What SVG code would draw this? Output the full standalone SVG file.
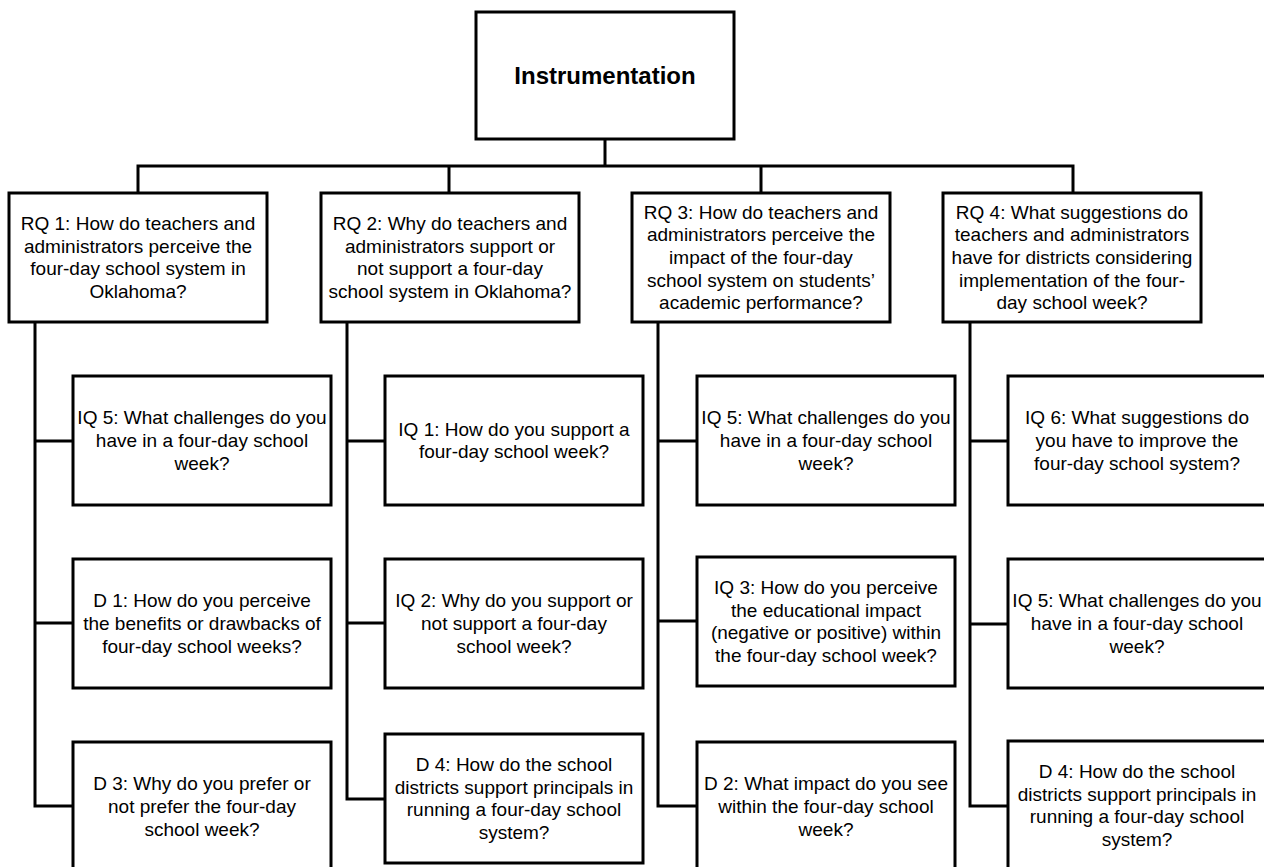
<svg xmlns="http://www.w3.org/2000/svg" width="1264" height="867" viewBox="0 0 1264 867">
<style>
.box{fill:#fff;stroke:#000;stroke-width:3}
.t{font-family:"Liberation Sans",Arial,sans-serif;font-size:19px;fill:#000;text-anchor:middle}
.title{font-family:"Liberation Sans",Arial,sans-serif;font-size:24px;font-weight:bold;fill:#000;text-anchor:middle}
.c{fill:none;stroke:#000;stroke-width:3}
</style>
<rect width="1264" height="867" fill="#fff"/>
<g id="connectors" class="c">
<path d="M605 139V166M138 193V166H1073V193M449 166V193M761 166V193"/>
<path d="M35 322V806H73M35 441H73M35 623H73"/>
<path d="M347 323V799H385M347 441H385M347 623H385"/>
<path d="M658 323V806H697M658 441H697M658 621H697"/>
<path d="M970 323V806H1008M970 441H1008M970 624H1008"/>
</g>
<g id="root"><rect class="box" x="476" y="12" width="258" height="127"/><text class="title" x="605" y="84">Instrumentation</text></g>
<g id="rq1"><rect class="box" x="9" y="193" width="258" height="129"/><text class="t" y="230"><tspan x="138">RQ 1: How do teachers and</tspan><tspan x="138" dy="22.7">administrators perceive the</tspan><tspan x="138" dy="22.7">four-day school system in</tspan><tspan x="138" dy="22.7">Oklahoma?</tspan></text></g>
<g id="rq2"><rect class="box" x="321" y="193" width="258" height="129"/><text class="t" y="230"><tspan x="450">RQ 2: Why do teachers and</tspan><tspan x="450" dy="22.7">administrators support or</tspan><tspan x="450" dy="22.7">not support a four-day</tspan><tspan x="450" dy="22.7">school system in Oklahoma?</tspan></text></g>
<g id="rq3"><rect class="box" x="632" y="193" width="258" height="129"/><text class="t" y="218.6"><tspan x="761">RQ 3: How do teachers and</tspan><tspan x="761" dy="22.7">administrators perceive the</tspan><tspan x="761" dy="22.7">impact of the four-day</tspan><tspan x="761" dy="22.7">school system on students’</tspan><tspan x="761" dy="22.7">academic performance?</tspan></text></g>
<g id="rq4"><rect class="box" x="943" y="193" width="258" height="129"/><text class="t" y="218.6"><tspan x="1072">RQ 4: What suggestions do</tspan><tspan x="1072" dy="22.7">teachers and administrators</tspan><tspan x="1072" dy="22.7">have for districts considering</tspan><tspan x="1072" dy="22.7">implementation of the four-</tspan><tspan x="1072" dy="22.7">day school week?</tspan></text></g>
<g id="c1-iq5"><rect class="box" x="73" y="376" width="258" height="129"/><text class="t" y="424.3"><tspan x="202">IQ 5: What challenges do you</tspan><tspan x="202" dy="22.7">have in a four-day school</tspan><tspan x="202" dy="22.7">week?</tspan></text></g>
<g id="c1-d1"><rect class="box" x="73" y="559" width="258" height="129"/><text class="t" y="607.3"><tspan x="202">D 1: How do you perceive</tspan><tspan x="202" dy="22.7">the benefits or drawbacks of</tspan><tspan x="202" dy="22.7">four-day school weeks?</tspan></text></g>
<g id="c1-d3"><rect class="box" x="73" y="742" width="258" height="129"/><text class="t" y="790.3"><tspan x="202">D 3: Why do you prefer or</tspan><tspan x="202" dy="22.7">not prefer the four-day</tspan><tspan x="202" dy="22.7">school week?</tspan></text></g>
<g id="c2-iq1"><rect class="box" x="385" y="376" width="258" height="129"/><text class="t" y="435.6"><tspan x="514">IQ 1: How do you support a</tspan><tspan x="514" dy="22.7">four-day school week?</tspan></text></g>
<g id="c2-iq2"><rect class="box" x="385" y="559" width="258" height="129"/><text class="t" y="607.3"><tspan x="514">IQ 2: Why do you support or</tspan><tspan x="514" dy="22.7">not support a four-day</tspan><tspan x="514" dy="22.7">school week?</tspan></text></g>
<g id="c2-d4"><rect class="box" x="385" y="734" width="258" height="129"/><text class="t" y="771"><tspan x="514">D 4: How do the school</tspan><tspan x="514" dy="22.7">districts support principals in</tspan><tspan x="514" dy="22.7">running a four-day school</tspan><tspan x="514" dy="22.7">system?</tspan></text></g>
<g id="c3-iq5"><rect class="box" x="697" y="376" width="258" height="129"/><text class="t" y="424.3"><tspan x="826">IQ 5: What challenges do you</tspan><tspan x="826" dy="22.7">have in a four-day school</tspan><tspan x="826" dy="22.7">week?</tspan></text></g>
<g id="c3-iq3"><rect class="box" x="697" y="557" width="258" height="129"/><text class="t" y="594"><tspan x="826">IQ 3: How do you perceive</tspan><tspan x="826" dy="22.7">the educational impact</tspan><tspan x="826" dy="22.7">(negative or positive) within</tspan><tspan x="826" dy="22.7">the four-day school week?</tspan></text></g>
<g id="c3-d2"><rect class="box" x="697" y="742" width="258" height="129"/><text class="t" y="790.3"><tspan x="826">D 2: What impact do you see</tspan><tspan x="826" dy="22.7">within the four-day school</tspan><tspan x="826" dy="22.7">week?</tspan></text></g>
<g id="c4-iq6"><rect class="box" x="1008" y="376" width="258" height="129"/><text class="t" y="424.3"><tspan x="1137">IQ 6: What suggestions do</tspan><tspan x="1137" dy="22.7">you have to improve the</tspan><tspan x="1137" dy="22.7">four-day school system?</tspan></text></g>
<g id="c4-iq5"><rect class="box" x="1008" y="559" width="258" height="129"/><text class="t" y="607.3"><tspan x="1137">IQ 5: What challenges do you</tspan><tspan x="1137" dy="22.7">have in a four-day school</tspan><tspan x="1137" dy="22.7">week?</tspan></text></g>
<g id="c4-d4"><rect class="box" x="1008" y="741" width="258" height="129"/><text class="t" y="778"><tspan x="1137">D 4: How do the school</tspan><tspan x="1137" dy="22.7">districts support principals in</tspan><tspan x="1137" dy="22.7">running a four-day school</tspan><tspan x="1137" dy="22.7">system?</tspan></text></g>
</svg>
